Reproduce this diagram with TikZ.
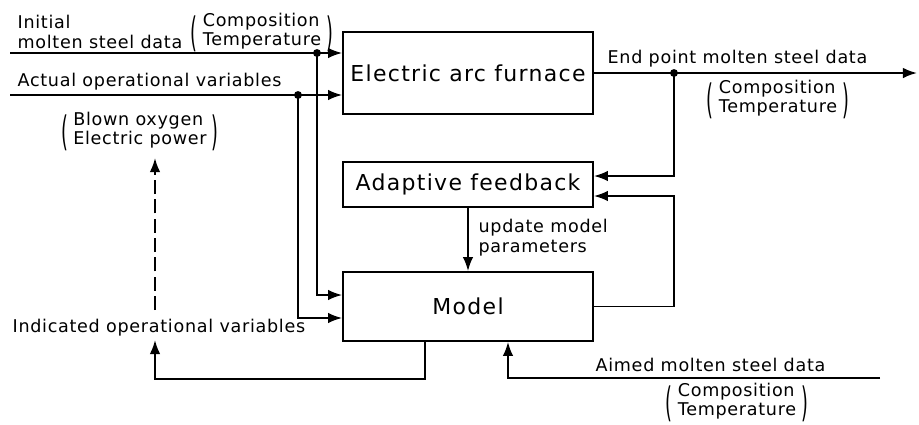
\documentclass[tikz,border=0pt]{standalone}
\usepackage{fontspec}
\usepackage{graphicx}
\setmainfont{DejaVu Sans}
\newfontfamily\lblfont[LetterSpace=4]{DejaVu Sans}
\newfontfamily\boxfont[LetterSpace=6]{DejaVu Sans}
\usetikzlibrary{positioning}
\usetikzlibrary{arrows.meta}

% two stacked words in round brackets
\newcommand{\tallparen}[1]{\raisebox{-5.5pt}{\scalebox{1}[2.3]{#1}}}
\newcommand{\bracketpair}[2]{\tallparen{(}\hspace{3pt}\begin{tabular}{@{}l@{}}#1\\#2\end{tabular}\hspace{3pt}\tallparen{)}}

\begin{document}
\begin{tikzpicture}[
        % pixel-like units, y pointing down
        x=0.02cm, y=-0.02cm,
        line width=1pt, >={Latex[length=8pt,width=6pt]},
        block/.style={
            draw,
            rectangle,
            minimum width=5cm,
            font=\boxfont\fontsize{12.5}{15}\selectfont
        },
        lbl/.style={
            font=\lblfont\fontsize{10}{11.5}\selectfont,
            inner sep=1pt
        },
        parlbl/.style={lbl, font=\lblfont\fontsize{10}{11}\selectfont, inner sep=0pt},
        junction/.style={circle, fill, inner sep=0pt, minimum size=4.5pt},
        flow/.style={->, line width=1.1pt}
        ]

        \useasboundingbox (0,0) rectangle (919,424);

        % the three blocks
        \node [block, minimum height=1.64cm] (eaf) at (468,73) {Electric arc furnace};
        \node [block, minimum height=0.9cm] (adapt) at (468,184.5) {Adaptive feedback};
        \node [block, minimum height=1.38cm] (model) at (468,306.5) {Model};

        % inputs on the left
        \coordinate (initin) at (10,53);
        \coordinate (actin) at (10,95);
        \node [junction] (initdot) at (317,53) {};
        \node [junction] (actdot) at (298,95) {};
        \draw[flow] (initin) -- (initin -| eaf.west);
        \draw[flow] (actin) -- (actin -| eaf.west);
        \draw[flow] (initdot.center) |- ([yshift=0.23cm]model.west);
        \draw[flow] (actdot.center) |- ([yshift=-0.23cm]model.west);

        \node [lbl, anchor=west, align=left] (initlbl) at (15,32) {Initial\\molten steel data};
        \node [parlbl] (initpar) at (262,32) {\bracketpair{Composition}{Temperature}};
        \node [lbl, anchor=west] (actlbl) at (15,82) {Actual operational variables};
        \node [parlbl] (actpar) at (140,131) {\bracketpair{Blown oxygen}{Electric power}};

        % furnace output
        \coordinate (outend) at (917,73);
        \node [junction] (enddot) at (674,73) {};
        \draw[flow] (eaf.east) -- (outend);
        \draw[flow] (enddot.center) |- ([yshift=0.17cm]adapt.east);
        \node [lbl, anchor=west] (endlbl) at (605,59) {End point molten steel data};
        \node [parlbl] (endpar) at (778,99) {\bracketpair{Composition}{Temperature}};

        % model back to adaptive feedback
        \coordinate (fbin) at ([yshift=-0.23cm]adapt.east);
        \draw[flow] (model.east) -| (fbin -| enddot) -- (fbin);
        \draw[flow] (adapt.south) -- (model.north);
        \node [lbl, anchor=west, align=left] (updlbl) at (476,238) {update model\\parameters};

        % indicated operational variables
        \coordinate (mout) at ([xshift=-0.86cm]model.south);
        \coordinate (indtip) at (155,340);
        \coordinate (dashfoot) at (155,310);
        \coordinate (dashtip) at (155,158);
        \node [lbl, anchor=west] (indlbl) at (10,328) {Indicated operational variables};
        \draw[flow] (mout) -- ++(0,37) -| (indtip);
        \draw[flow, dash pattern=on 8pt off 3pt] (dashfoot) -- (dashtip);

        % aimed data into the model
        \coordinate (aimstart) at (880,378);
        \coordinate (aimin) at ([xshift=0.8cm]model.south);
        \draw[flow] (aimstart) -| (aimin);
        \node [lbl, anchor=west] (aimlbl) at (593,365) {Aimed molten steel data};
        \node [parlbl] (aimpar) at (737,402) {\bracketpair{Composition}{Temperature}};
\end{tikzpicture}
\end{document}
